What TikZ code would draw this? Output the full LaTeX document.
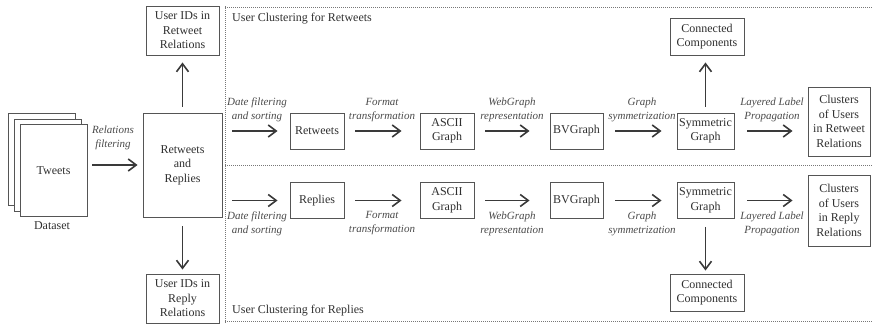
\documentclass[tikz,border=0pt]{standalone}
\usepackage{fontspec}
\setmainfont{Liberation Serif}
\usetikzlibrary{arrows.meta}
\definecolor{txt}{HTML}{303030}
\definecolor{ln}{HTML}{555555}
\definecolor{ar}{HTML}{3A3A3A}
\definecolor{lbl}{HTML}{4A4A4A}
\begin{document}
\begin{tikzpicture}[x=1pt,y=-1pt,
  box/.style={draw=ln,line width=0.9pt,fill=white,inner sep=0pt,align=center,text=txt,
     font=\fontsize{12}{14.5}\selectfont},
  lab/.style={inner sep=0pt,align=center,text=lbl,font=\fontsize{11}{14}\selectfont\itshape},
  plain/.style={inner sep=0pt,text=txt,font=\fontsize{12}{14.5}\selectfont},
  arr/.style={draw=ar,line width=1.5pt,-{Straight Barb[length=8pt,width=12pt,line width=1.6pt]}},
  sep/.style={draw=ln!80,line width=0.8pt,dash pattern=on 1pt off 1pt}]
\useasboundingbox (0,0) rectangle (872,324);
% separators
\draw[sep] (225,6) -- (225,324);
\draw[sep] (225,7) -- (872,7);
\draw[sep] (225,165) -- (872,165);
\draw[sep] (225,321) -- (872,321);
\node[plain,anchor=west] (h1) at (232,19) {User Clustering for Retweets};
\node[plain,anchor=west] (h2) at (232,311) {User Clustering for Replies};
% dataset stack
\node[box,minimum width=67pt,minimum height=92pt] (p3) at (41.5,159.5) {};
\node[box,minimum width=67pt,minimum height=92pt] (p2) at (47.5,165) {};
\node[box,minimum width=67pt,minimum height=92pt] (tw) at (53.5,170.5) {Tweets};
\node[plain] (ds) at (52,226) {Dataset};
% left column
\node[box,minimum width=79pt,minimum height=104pt] (rr) at (182.5,165) {Retweets\\and\\Replies};
\node[box,minimum width=73pt,minimum height=49pt] (uidrt) at (182.5,30.5) {User IDs in\\Retweet\\Relations};
\node[box,minimum width=73pt,minimum height=49pt] (uidrp) at (182.5,298.5) {User IDs in\\Reply\\Relations};
% top row
\node[box,minimum width=54pt,minimum height=36pt] (rt) at (317,131) {Retweets};
\node[box,minimum width=54pt,minimum height=36pt] (as1) at (447,131) {ASCII\\Graph};
\node[box,minimum width=53pt,minimum height=36pt] (bv1) at (576.5,131) {BVGraph};
\node[box,minimum width=57pt,minimum height=36pt] (sy1) at (705.5,131) {Symmetric\\Graph};
\node[box,minimum width=74pt,minimum height=37pt] (cc1) at (707,36.5) {Connected\\Components};
\node[box,minimum width=62pt,minimum height=69pt] (cl1) at (839,121.5) {Clusters\\of Users\\in Retweet\\Relations};
% bottom row
\node[box,minimum width=54pt,minimum height=36pt] (rp) at (317,200.5) {Replies};
\node[box,minimum width=54pt,minimum height=36pt] (as2) at (447,200.5) {ASCII\\Graph};
\node[box,minimum width=53pt,minimum height=36pt] (bv2) at (576.5,200.5) {BVGraph};
\node[box,minimum width=57pt,minimum height=36pt] (sy2) at (705.5,200.5) {Symmetric\\Graph};
\node[box,minimum width=74pt,minimum height=37pt] (cc2) at (707,292.5) {Connected\\Components};
\node[box,minimum width=62pt,minimum height=71pt] (cl2) at (839,210.5) {Clusters\\of Users\\in Reply\\Relations};
% arrows left
\draw[arr,shorten <=5pt,shorten >=5pt] (tw.east |- rr.west) -- (rr.west);
\node[lab] (lrf) at (113,137.5) {Relations\\filtering};
\draw[arr,shorten <=6pt,shorten >=7pt] (rr.north) -- (uidrt.south);
\draw[arr,shorten <=9pt,shorten >=4pt] (rr.south) -- (uidrp.north);
% top row arrows
\draw[arr,shorten <=10pt,shorten >=12pt] (rr.east |- rt.west) -- (rt.west);
\draw[arr,shorten <=11pt,shorten >=18pt] (rt.east) -- (as1.west);
\draw[arr,shorten <=11pt,shorten >=20pt] (as1.east) -- (bv1.west);
\draw[arr,shorten <=12pt,shorten >=15pt] (bv1.east) -- (sy1.west);
\draw[arr,shorten <=13pt,shorten >=15pt] (sy1.east) -- (cl1.west |- sy1.east);
\draw[arr,shorten <=6pt,shorten >=7pt] (sy1.north) -- (sy1.north |- cc1.south);
\node[lab] (l1) at (257,110) {Date filtering\\and sorting};
\node[lab] (l2) at (382,110) {Format\\transformation};
\node[lab] (l3) at (512,110) {WebGraph\\representation};
\node[lab] (l4) at (642,110) {Graph\\symmetrization};
\node[lab] (l5) at (772,110) {Layered Label\\Propagation};
% bottom row arrows
\draw[arr,shorten <=10pt,shorten >=12pt] (rr.east |- rp.west) -- (rp.west);
\draw[arr,shorten <=11pt,shorten >=18pt] (rp.east) -- (as2.west);
\draw[arr,shorten <=11pt,shorten >=20pt] (as2.east) -- (bv2.west);
\draw[arr,shorten <=12pt,shorten >=15pt] (bv2.east) -- (sy2.west);
\draw[arr,shorten <=13pt,shorten >=15pt] (sy2.east) -- (cl2.west |- sy2.east);
\draw[arr,shorten <=8pt,shorten >=3pt] (sy2.south) -- (sy2.south |- cc2.north);
\node[lab] (m1) at (257,223.5) {Date filtering\\and sorting};
\node[lab] (m2) at (382,223.5) {Format\\transformation};
\node[lab] (m3) at (512,223.5) {WebGraph\\representation};
\node[lab] (m4) at (642,223.5) {Graph\\symmetrization};
\node[lab] (m5) at (772,223.5) {Layered Label\\Propagation};
\end{tikzpicture}
\end{document}
